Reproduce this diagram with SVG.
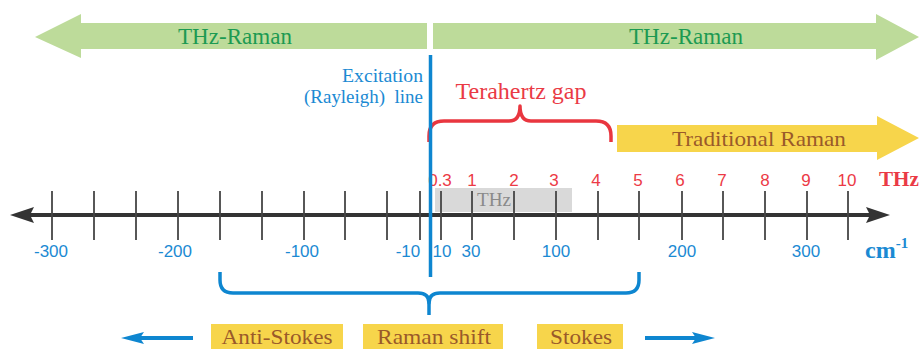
<svg xmlns="http://www.w3.org/2000/svg" width="920" height="349" viewBox="0 0 920 349">
  <defs>
    <style>
      .serif { font-family: "Liberation Serif", "Times New Roman", serif; }
      .sans { font-family: "Liberation Sans", Arial, sans-serif; }
      .green-arrow { fill: #bddb9a; }
      .green-txt { fill: #1c9a52; font-size: 23px; }
      .yellow { fill: #f7d54b; }
      .brown-txt { fill: #9a5a2a; font-size: 22px; }
      .red-num { fill: #ec3a46; font-size: 17px; text-anchor: middle; }
      .blue-num { fill: #1b8ad3; font-size: 17px; text-anchor: middle; }
      .tick { stroke: #454545; stroke-width: 1.8; }
      .brace-red { fill: none; stroke: #e9363f; stroke-width: 3.5; stroke-linejoin: round; }
      .brace-blue { fill: none; stroke: #0e86d0; stroke-width: 3.5; stroke-linejoin: round; }
      .blue-txt { fill: #1b8ad3; font-size: 19.5px; text-anchor: end; }
    </style>
  </defs>

  <rect width="920" height="349" fill="#ffffff"/>

  <!-- Top green range arrows -->
  <g id="thz-raman-left">
    <polygon class="green-arrow" points="35,37 81,14 81,23 427,23 427,49 81,49 81,58"/>
    <text class="serif green-txt" x="235" y="44" text-anchor="middle" textLength="114" lengthAdjust="spacingAndGlyphs">THz-Raman</text>
  </g>
  <g id="thz-raman-right">
    <polygon class="green-arrow" points="433,23 876,23 876,14 919,37 876,60 876,49 433,49"/>
    <text class="serif green-txt" x="686" y="44" text-anchor="middle" textLength="114" lengthAdjust="spacingAndGlyphs">THz-Raman</text>
  </g>

  <!-- Excitation line label -->
  <g id="excitation-label">
    <text class="serif blue-txt" x="423" y="82" textLength="81" lengthAdjust="spacingAndGlyphs">Excitation</text>
    <text class="serif blue-txt" x="423" y="103" textLength="119" lengthAdjust="spacingAndGlyphs" xml:space="preserve">(Rayleigh)  line</text>
  </g>

  <!-- Terahertz gap -->
  <g id="terahertz-gap">
    <text class="serif" x="521" y="99" text-anchor="middle" font-size="23" fill="#ea3a45" textLength="131" lengthAdjust="spacingAndGlyphs">Terahertz gap</text>
    <path class="brace-red" d="M429,142 V136 Q429,121 444,121 H509 Q520,121 520,106 Q520,121 531,121 H596 Q611,121 611,136 V142"/>
  </g>

  <!-- Traditional Raman arrow -->
  <g id="traditional-raman">
    <polygon class="yellow" points="617,125 877,125 877,116 919,138 877,160 877,152 617,152"/>
    <text class="serif brown-txt" x="759" y="146" text-anchor="middle" font-size="23" textLength="174" lengthAdjust="spacingAndGlyphs">Traditional Raman</text>
  </g>

  <!-- THz band marker -->
  <g id="thz-band">
    <rect x="435" y="188" width="137" height="24" fill="#d9d9d9"/>
    <text class="serif" x="494" y="206" text-anchor="middle" font-size="18" fill="#8a8a8a" textLength="34" lengthAdjust="spacingAndGlyphs">THz</text>
  </g>

  <!-- Axis with ticks -->
  <g id="axis">
    <line x1="28" y1="215" x2="872" y2="215" stroke="#333333" stroke-width="4"/>
    <path d="M10,215 L34,207 L30,215 L34,223 Z" fill="#333333"/>
    <path d="M890,215 L866,207 L870,215 L866,223 Z" fill="#333333"/>
    <g class="tick">
      <line x1="52" y1="191" x2="52" y2="240"/>
      <line x1="94" y1="191" x2="94" y2="240"/>
      <line x1="136" y1="191" x2="136" y2="240"/>
      <line x1="178" y1="191" x2="178" y2="240"/>
      <line x1="220" y1="191" x2="220" y2="240"/>
      <line x1="262" y1="191" x2="262" y2="240"/>
      <line x1="304" y1="191" x2="304" y2="240"/>
      <line x1="345" y1="191" x2="345" y2="240"/>
      <line x1="387" y1="191" x2="387" y2="240"/>
      <line x1="420" y1="191" x2="420" y2="240"/>
      <line x1="441" y1="191" x2="441" y2="240"/>
      <line x1="472" y1="191" x2="472" y2="240"/>
      <line x1="514" y1="191" x2="514" y2="240"/>
      <line x1="556" y1="191" x2="556" y2="240"/>
      <line x1="598" y1="191" x2="598" y2="240"/>
      <line x1="639" y1="191" x2="639" y2="240"/>
      <line x1="682" y1="191" x2="682" y2="240"/>
      <line x1="723" y1="191" x2="723" y2="240"/>
      <line x1="765" y1="191" x2="765" y2="240"/>
      <line x1="807" y1="191" x2="807" y2="240"/>
      <line x1="848" y1="191" x2="848" y2="240"/>
    </g>
  </g>

  <!-- Frequency scale (THz) -->
  <g id="thz-scale">
    <text class="sans red-num" x="440" y="186">0.3</text>
    <text class="sans red-num" x="472" y="186">1</text>
    <text class="sans red-num" x="514" y="186">2</text>
    <text class="sans red-num" x="554" y="186">3</text>
    <text class="sans red-num" x="596" y="186">4</text>
    <text class="sans red-num" x="638" y="186">5</text>
    <text class="sans red-num" x="680" y="186">6</text>
    <text class="sans red-num" x="722" y="186">7</text>
    <text class="sans red-num" x="765" y="186">8</text>
    <text class="sans red-num" x="806" y="186">9</text>
    <text class="sans red-num" x="847" y="186">10</text>
    <text class="serif" x="879" y="186" font-size="20" font-weight="bold" fill="#ea3a45" textLength="40" lengthAdjust="spacingAndGlyphs">THz</text>
  </g>

  <!-- Wavenumber scale (cm-1) -->
  <g id="wavenumber-scale">
    <text class="sans blue-num" x="51" y="257">-300</text>
    <text class="sans blue-num" x="175" y="257">-200</text>
    <text class="sans blue-num" x="302" y="257">-100</text>
    <text class="sans blue-num" x="408" y="257">-10</text>
    <text class="sans blue-num" x="442" y="257">10</text>
    <text class="sans blue-num" x="471" y="257">30</text>
    <text class="sans blue-num" x="556" y="257">100</text>
    <text class="sans blue-num" x="682" y="257">200</text>
    <text class="sans blue-num" x="806" y="257">300</text>
    <text class="serif" x="865" y="258" font-size="24" font-weight="bold" fill="#1b8ad3">cm<tspan font-size="15" dy="-10">-1</tspan></text>
  </g>

  <!-- Excitation (Rayleigh) line -->
  <g id="excitation-line">
    <line x1="430.5" y1="55" x2="430.5" y2="277" stroke="#0e86d0" stroke-width="3.5"/>
  </g>

  <!-- Raman shift brace -->
  <g id="raman-shift-brace">
    <path class="brace-blue" d="M220,272 V280 Q220,293 233,293 H418 Q429,293 429,303 Q429,293 440,293 H626 Q639,293 639,280 V272"/>
    <line x1="429" y1="300" x2="429" y2="315" stroke="#0e86d0" stroke-width="3.5"/>
  </g>

  <!-- Bottom direction arrows -->
  <g id="connectors">
    <line x1="193" y1="338" x2="138" y2="338" stroke="#0e86d0" stroke-width="4"/>
    <path d="M121,338 L144,332 L140,338 L144,344 Z" fill="#0e86d0"/>
    <line x1="645" y1="338" x2="698" y2="338" stroke="#0e86d0" stroke-width="4"/>
    <path d="M715,338 L692,332 L696,338 L692,344 Z" fill="#0e86d0"/>
  </g>
  <g id="anti-stokes">
    <rect class="yellow" x="211" y="324" width="132" height="26"/>
    <text class="serif brown-txt" x="277" y="344" text-anchor="middle" textLength="111" lengthAdjust="spacingAndGlyphs">Anti-Stokes</text>
  </g>
  <g id="raman-shift">
    <rect class="yellow" x="363" y="324" width="140" height="26"/>
    <text class="serif brown-txt" x="434" y="344" text-anchor="middle" textLength="114" lengthAdjust="spacingAndGlyphs">Raman shift</text>
  </g>
  <g id="stokes">
    <rect class="yellow" x="537" y="324" width="86" height="26"/>
    <text class="serif brown-txt" x="581" y="344" text-anchor="middle" textLength="62" lengthAdjust="spacingAndGlyphs">Stokes</text>
  </g>
</svg>
